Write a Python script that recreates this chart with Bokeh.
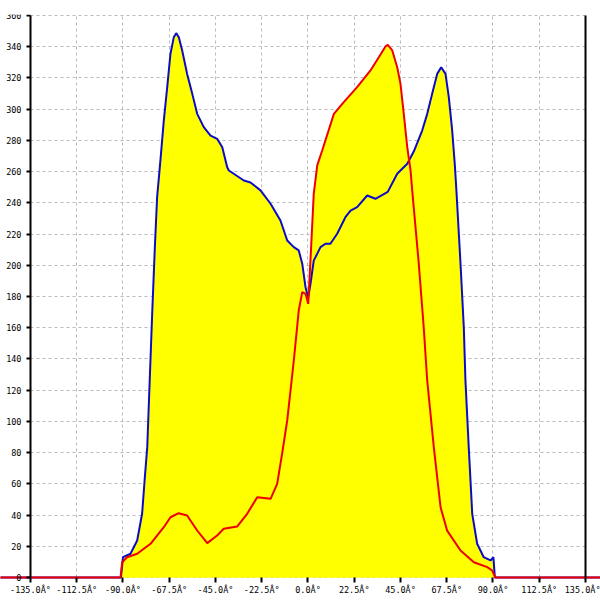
from bokeh.plotting import figure
from bokeh.models import (LinearAxis, FixedTicker, Grid, Range1d,
                          PrintfTickFormatter, ColumnDataSource)
from bokeh.embed import file_html
from bokeh.resources import INLINE

# ---- data (angle in degrees, value) ----
blue_deg = [-180, -91.0, -90.0, -86.35, -83.1, -80.7, -79.5, -78.2, -77.0, -75.8,
            -74.5, -73.4, -71.8, -70.15, -68.5, -66.9, -65.3, -64.1, -62.85, -61.2,
            -58.8, -56.3, -53.9, -50.7, -47.4, -44.2, -41.7, -39.3, -38.5, -31.2,
            -28.0, -23.1, -18.2, -13.4, -10.1, -6.9, -4.5, -2.8, -1.2, 0.1,
            1.2, 2.8, 6.1, 8.5, 10.9, 14.2, 18.2, 20.7, 23.9, 28.8,
            32.8, 38.8, 43.4, 48.3, 51.5, 55.55, 58.0, 60.4, 62.85, 64.8,
            66.9, 68.5, 70.15, 71.4, 72.2, 74.2, 75.8, 76.6, 78.2, 79.9,
            82.3, 85.5, 88.8, 90.2, 90.9, 180]
blue_val = [0, 0, 13, 15.2, 23.7, 40.8, 62, 83.5, 126.2, 168.9,
            211.6, 243.6, 267, 292.7, 314, 335.5, 346, 348.7, 346, 337.6,
            322.6, 309.8, 297, 288.5, 283.1, 281, 275.6, 262.8, 260.7, 254.3,
            253, 248, 239.4, 228.7, 215.9, 211.6, 209.5, 201, 186, 179.4,
            188, 203, 211.6, 213.8, 213.8, 220.2, 230.8, 235, 237.2, 244.7,
            242.6, 247, 258.6, 265, 273, 286.3, 297, 309.8, 322.6, 326.9,
            322.6, 307.7, 286.3, 265, 248, 201, 160.3, 126.2, 83.5, 40.8,
            21.6, 13, 10.9, 13, 0, 0]

red_deg = [-180, -91.2, -90.4, -88.0, -83.1, -76.6, -70.15, -66.9, -62.9, -58.8,
           -53.9, -49.0, -44.2, -41.0, -34.4, -29.6, -24.7, -18.2, -15.0, -12.6,
           -10.1, -6.9, -4.5, -2.8, -1.2, 0.1, 1.2, 2.8, 4.5, 6.9,
           12.6, 17.4, 23.9, 30.4, 34.45, 37.7, 38.8, 41.0, 43.4, 45.0,
           46.6, 48.3, 49.9, 50.7, 53.9, 56.3, 58.0, 61.2, 64.5, 67.7,
           74.2, 80.7, 87.2, 89.6, 91.2, 180]
red_val = [0, 0, 9.8, 13, 15.2, 21.6, 32.2, 38.6, 41.2, 39.7,
           30.1, 22, 26.9, 31.2, 32.7, 40.8, 51.4, 50.4, 60, 79.2,
           100.6, 139, 171, 182.8, 181.7, 175.3, 203, 245.8, 264, 273.5,
           297, 304.5, 314.1, 324.8, 333.3, 340.2, 341.2, 337.6, 326.9, 316.2,
           297, 275.6, 260.7, 248, 201, 160.3, 126.2, 83.5, 45, 30,
           17.3, 9.8, 6.6, 4.5, 0, 0]

x_ticks = [-135, -112.5, -90, -67.5, -45, -22.5, 0, 22.5, 45, 67.5, 90, 112.5, 135]
y_ticks = list(range(0, 361, 20))

FONT = "DejaVu Sans Mono"

p = figure(width=600, height=600, output_backend="svg", toolbar_location=None,
           x_axis_type=None, y_axis_type=None, title=None,
           x_range=Range1d(-149.59, 142.30), y_range=Range1d(-14.74, 360.64),
           min_border_left=0, min_border_right=0, min_border_top=14,
           min_border_bottom=0)
p.outline_line_color = None
p.background_fill_color = "white"
p.border_fill_color = "white"

xt = FixedTicker(ticks=x_ticks, minor_ticks=[])
yt = FixedTicker(ticks=y_ticks, minor_ticks=[])

xgrid = Grid(dimension=0, ticker=xt, grid_line_color="#bbbbbb",
             grid_line_dash="3 3", grid_line_width=1)
ygrid = Grid(dimension=1, ticker=yt, grid_line_color="#bbbbbb",
             grid_line_dash="3 3", grid_line_width=1)
ygrid.cross_bounds = (-135, 135)
xgrid.cross_bounds = (0, 360)
p.add_layout(xgrid)
p.add_layout(ygrid)

bsrc = ColumnDataSource(dict(x=blue_deg, y=blue_val))
rsrc = ColumnDataSource(dict(x=red_deg, y=red_val))

p.varea(x="x", y1=0, y2="y", source=bsrc, fill_color="#ffff00")
p.varea(x="x", y1=0, y2="y", source=rsrc, fill_color="#ffff00")
p.line(x="x", y="y", source=bsrc, line_color="#0c0cc4", line_width=2)
p.line(x="x", y="y", source=rsrc, line_color="#ee0000", line_width=2)

yaxis = LinearAxis(fixed_location=-135, ticker=yt, bounds=(0, 360),
                   major_tick_out=4, major_tick_in=0, minor_tick_out=0, minor_tick_in=0,
                   major_tick_line_width=2, axis_line_width=2,
                   major_label_standoff=5,
                   major_label_text_font=FONT, major_label_text_font_size="8.5px",
                   major_label_text_color="black")
p.add_layout(yaxis, "left")

raxis = LinearAxis(fixed_location=135, ticker=yt, bounds=(0, 360),
                   major_tick_out=0, major_tick_in=0, minor_tick_out=0, minor_tick_in=0,
                   axis_line_width=2, major_label_text_color=None)
p.add_layout(raxis, "right")

xaxis = LinearAxis(fixed_location=0, ticker=xt,
                   formatter=PrintfTickFormatter(format="%.1fÂ°"),
                   major_tick_out=5, major_tick_in=0, minor_tick_out=0, minor_tick_in=0,
                   major_tick_line_width=2, axis_line_color=None,
                   major_label_standoff=3,
                   major_label_text_font=FONT, major_label_text_font_size="8.5px",
                   major_label_text_color="black")
p.add_layout(xaxis, "below")

with open("out.html", "w", encoding="utf-8") as f:
    f.write(file_html(p, INLINE))
